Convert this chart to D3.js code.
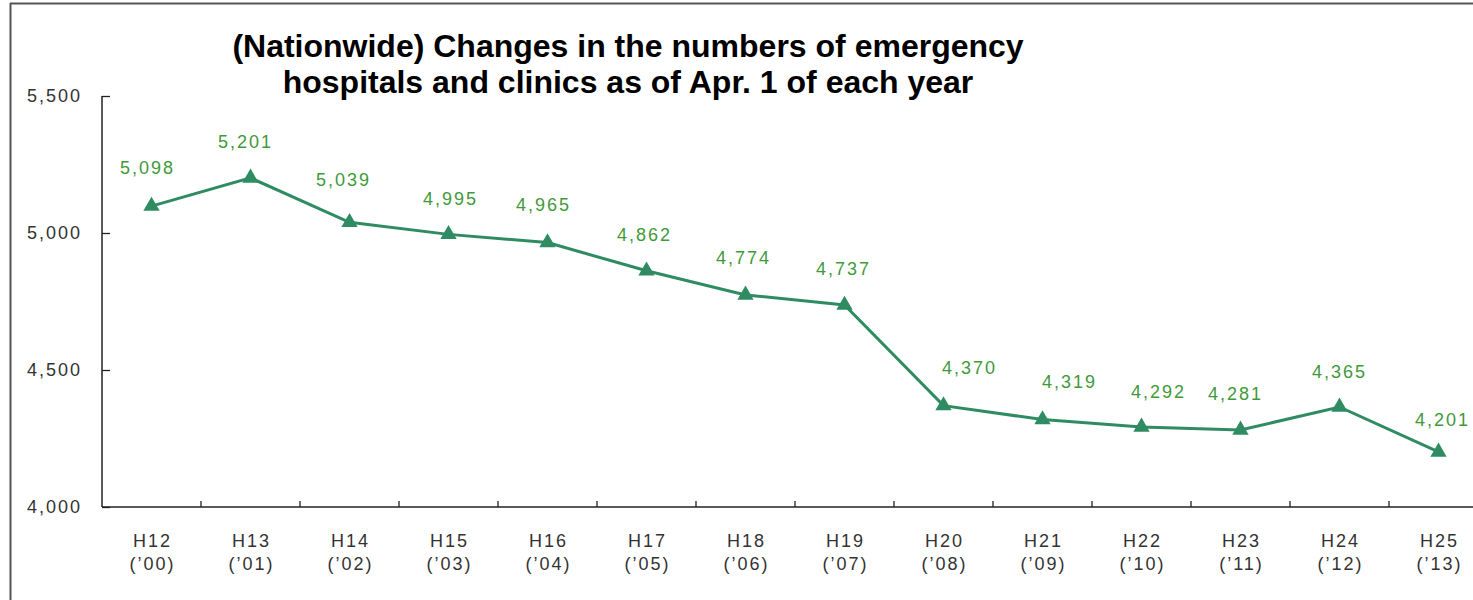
<!DOCTYPE html>
<html>
<head>
<meta charset="utf-8">
<script src="https://cdn.jsdelivr.net/npm/d3@7"></script>
<style>
  html, body { margin: 0; padding: 0; background: #fff; }
  svg { display: block; }
</style>
</head>
<body>
<svg id="chart" width="1473" height="600"></svg>
<script>
const categories = ["H12","H13","H14","H15","H16","H17","H18","H19","H20","H21","H22","H23","H24","H25"];
const yearLabels = ["(’00)","(’01)","(’02)","(’03)","(’04)","(’05)","(’06)","(’07)","(’08)","(’09)","(’10)","(’11)","(’12)","(’13)"];
const values = [5098, 5201, 5039, 4995, 4965, 4862, 4774, 4737, 4370, 4319, 4292, 4281, 4365, 4201];
const yTicks = [4000, 4500, 5000, 5500];
const titleLines = ["(Nationwide) Changes in the numbers of emergency", "hospitals and clinics as of Apr. 1 of each year"];
// label nudges (layout only)
const labelDx = [-4, -5, -6, 2, -4, -2, -2, -1, 26, 27, 17, -5, 0, 4];
const labelDy = [-37, -35, -41, -34, -36, -35, -36, -35, -36, -36, -34, -35, -34, -31];

const svg = d3.select("#chart");
const W = 1473, H = 600;
const lineColor = "#2f8c62";
const labelColor = "#3f9a3a";
const axisColor = "#222";
const font = "'Liberation Sans', Arial, sans-serif";
const fs = "18px", ls = "2px";

// frame
svg.append("line").attr("x1", 10).attr("x2", W).attr("y1", 3.5).attr("y2", 3.5)
  .attr("stroke", "#555").attr("stroke-width", 2);
svg.append("line").attr("x1", 10.5).attr("x2", 10.5).attr("y1", 3).attr("y2", H)
  .attr("stroke", "#555").attr("stroke-width", 2);

const x0 = 102, step = 99;
const x = d3.scaleBand().domain(categories).range([x0, x0 + step * categories.length]).paddingInner(0).paddingOuter(0);
const y = d3.scaleLinear().domain([4000, 5500]).range([507, 96]);

// Y axis
const yAxis = d3.axisLeft(y).tickValues(yTicks).tickSize(-8).tickPadding(20)
  .tickFormat(d3.format(","));
const gy = svg.append("g").attr("transform", `translate(${x0},0)`).call(yAxis);
gy.select(".domain").attr("stroke", axisColor).attr("stroke-width", 1.5).attr("d", `M0,${y(5500)}V${y(4000)}`);
gy.selectAll(".tick line").attr("stroke", axisColor).attr("stroke-width", 1.3);
gy.selectAll(".tick text").attr("fill", "#333").style("font-family", font).style("font-size", fs)
  .style("letter-spacing", ls);

// X axis
const xAxis = d3.axisBottom(x).tickSize(0).tickPadding(0).tickFormat(() => "");
const gx = svg.append("g").attr("transform", `translate(0,${y(4000)})`).call(xAxis);
gx.select(".domain").attr("stroke", axisColor).attr("stroke-width", 1.5).attr("d", `M${x0},0H${W + 20}`);
// tick marks between categories
gx.selectAll(".sep").data(categories.slice(1)).enter().append("line")
  .attr("x1", d => x(d)).attr("x2", d => x(d)).attr("y1", 0).attr("y2", -6)
  .attr("stroke", axisColor).attr("stroke-width", 1.3);
gx.selectAll(".tick").each(function(d, i) {
  const t = d3.select(this).select("text").text(null)
    .attr("fill", "#333").style("font-family", font).style("font-size", fs)
    .style("letter-spacing", ls).attr("text-anchor", "middle").attr("dy", null).attr("y", 0);
  t.append("tspan").attr("x", 1).attr("y", 40).text(d);
  t.append("tspan").attr("x", 1).attr("y", 63).text(yearLabels[i]);
});

const cx = d => x(d) + x.bandwidth() / 2;

// line
const data = categories.map((c, i) => ({ c, v: values[i], i }));
svg.append("path").datum(data)
  .attr("fill", "none").attr("stroke", lineColor).attr("stroke-width", 3)
  .attr("d", d3.line().x(d => cx(d.c)).y(d => y(d.v)));

// markers
svg.selectAll(".mk").data(data).enter().append("path")
  .attr("transform", d => `translate(${cx(d.c)},${y(d.v)})`)
  .attr("d", d3.symbol().type(d3.symbolTriangle).size(115))
  .attr("fill", lineColor);

// value labels
svg.selectAll(".lbl").data(data).enter().append("text")
  .attr("x", d => cx(d.c) + labelDx[d.i])
  .attr("y", d => y(d.v) + labelDy[d.i])
  .attr("text-anchor", "middle").attr("dominant-baseline", "middle")
  .attr("fill", labelColor).style("font-family", font).style("font-size", fs)
  .style("letter-spacing", ls)
  .text(d => d3.format(",")(d.v));

// title
const title = svg.append("text").attr("text-anchor", "middle")
  .style("font-family", font).style("font-weight", "bold").style("font-size", "32px").attr("fill", "#000");
title.selectAll("tspan").data(titleLines).enter().append("tspan")
  .attr("x", 628).attr("y", (d, i) => 57 + i * 36).text(d => d);
</script>
</body>
</html>
